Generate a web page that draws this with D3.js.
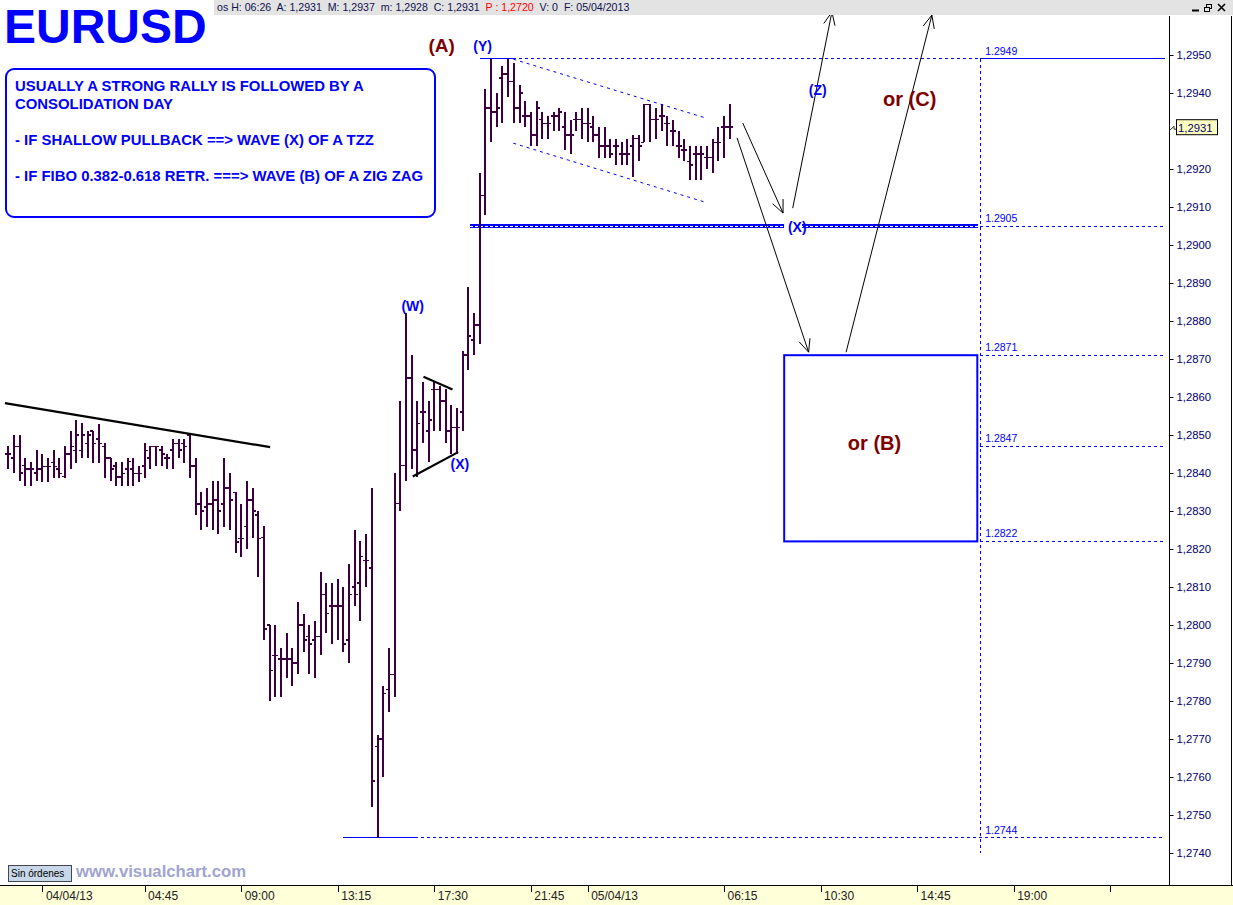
<!DOCTYPE html>
<html><head><meta charset="utf-8">
<script src="https://cdn.jsdelivr.net/npm/d3@7/dist/d3.min.js"></script>
<style>body{margin:0;background:#fff;overflow:hidden}svg{display:block}</style>
</head><body>
<svg id="c" width="1233" height="905"></svg>
<script>
// ---------- DATA (15-minute EURUSD bars, 04/04/13 - 05/04/13) ----------
const openP  = [1.28450,1.28440,1.28470,1.28420,1.28410,1.28400,1.28410,1.28417,1.28428,1.28410,1.28391,1.28450,1.28459,1.28459,1.28478,1.28511,1.28489,1.28470,1.28439,1.28419,1.28389,1.28410,1.28410,1.28399,1.28419,1.28439,1.28470,1.28461,1.28439,1.28461,1.28478,1.28478,1.28500,1.28419,1.28319,1.28310,1.28319,1.28329,1.28319,1.28360,1.28349,1.28228,1.28259,1.28329,1.28290,1.28230,1.28000,1.27920,1.27910,1.27910,1.27910,1.27900,1.28000,1.27970,1.27960,1.27970,1.28080,1.28050,1.28050,1.28050,1.27960,1.28100,1.28110,1.28170,1.28150,1.27680,1.27700,1.27830,1.27870,1.28320,1.28420,1.28650,1.28460,1.28560,1.28510,1.28620,1.28620,1.28590,1.28510,1.28520,1.28560,1.28710,1.28750,1.28790,1.29130,1.29360,1.29350,1.29440,1.29450,1.29430,1.29360,1.29340,1.29340,1.29290,1.29330,1.29320,1.29340,1.29340,1.29310,1.29290,1.29330,1.29330,1.29320,1.29310,1.29290,1.29260,1.29260,1.29260,1.29240,1.29240,1.29260,1.29280,1.29270,1.29370,1.29330,1.29340,1.29320,1.29300,1.29260,1.29250,1.29220,1.29240,1.29240,1.29230,1.29230,1.29270,1.29310,1.29310];
const highP  = [1.28470,1.28500,1.28500,1.28440,1.28428,1.28461,1.28450,1.28439,1.28461,1.28439,1.28470,1.28511,1.28540,1.28531,1.28511,1.28511,1.28529,1.28478,1.28439,1.28428,1.28428,1.28439,1.28439,1.28419,1.28478,1.28470,1.28470,1.28470,1.28450,1.28489,1.28489,1.28489,1.28500,1.28439,1.28349,1.28360,1.28380,1.28380,1.28439,1.28399,1.28349,1.28319,1.28380,1.28360,1.28300,1.28260,1.28000,1.28000,1.27940,1.27980,1.27940,1.28060,1.28030,1.28000,1.28010,1.28140,1.28110,1.28110,1.28120,1.28100,1.28160,1.28250,1.28220,1.28240,1.28360,1.27710,1.27840,1.27940,1.28400,1.28590,1.28820,1.28710,1.28590,1.28640,1.28590,1.28640,1.28630,1.28620,1.28580,1.28570,1.28720,1.28890,1.28820,1.29190,1.29410,1.29490,1.29400,1.29470,1.29490,1.29480,1.29420,1.29380,1.29350,1.29380,1.29350,1.29340,1.29350,1.29360,1.29350,1.29330,1.29350,1.29360,1.29360,1.29340,1.29310,1.29310,1.29280,1.29280,1.29270,1.29280,1.29290,1.29290,1.29370,1.29370,1.29360,1.29370,1.29340,1.29330,1.29300,1.29280,1.29260,1.29260,1.29260,1.29260,1.29280,1.29310,1.29340,1.29370];
const lowP   = [1.28410,1.28400,1.28380,1.28366,1.28366,1.28380,1.28377,1.28377,1.28388,1.28388,1.28388,1.28410,1.28427,1.28439,1.28439,1.28427,1.28427,1.28388,1.28380,1.28366,1.28366,1.28366,1.28366,1.28377,1.28388,1.28410,1.28419,1.28419,1.28410,1.28410,1.28439,1.28427,1.28388,1.28290,1.28249,1.28259,1.28249,1.28240,1.28259,1.28249,1.28189,1.28180,1.28199,1.28228,1.28127,1.27961,1.27800,1.27810,1.27810,1.27860,1.27840,1.27870,1.27930,1.27870,1.27860,1.27920,1.27980,1.27950,1.27960,1.27930,1.27900,1.28050,1.28010,1.28100,1.27520,1.27440,1.27600,1.27770,1.27810,1.28300,1.28380,1.28410,1.28390,1.28480,1.28430,1.28510,1.28510,1.28480,1.28450,1.28450,1.28510,1.28670,1.28710,1.28740,1.29080,1.29270,1.29310,1.29320,1.29390,1.29320,1.29320,1.29310,1.29260,1.29260,1.29280,1.29280,1.29300,1.29300,1.29250,1.29240,1.29300,1.29280,1.29270,1.29270,1.29230,1.29230,1.29230,1.29210,1.29210,1.29210,1.29180,1.29220,1.29270,1.29270,1.29280,1.29300,1.29260,1.29260,1.29230,1.29220,1.29170,1.29170,1.29170,1.29200,1.29190,1.29220,1.29230,1.29280];
const closeP = [1.28450,1.28470,1.28400,1.28410,1.28410,1.28410,1.28417,1.28417,1.28417,1.28399,1.28450,1.28470,1.28500,1.28500,1.28500,1.28478,1.28478,1.28439,1.28410,1.28389,1.28399,1.28430,1.28399,1.28399,1.28459,1.28470,1.28470,1.28450,1.28439,1.28478,1.28461,1.28470,1.28419,1.28319,1.28300,1.28319,1.28329,1.28300,1.28360,1.28329,1.28218,1.28228,1.28329,1.28300,1.28228,1.27990,1.27880,1.27920,1.27910,1.27910,1.27900,1.28000,1.27960,1.27950,1.27970,1.28080,1.28030,1.28050,1.28050,1.27950,1.28080,1.28080,1.28180,1.28170,1.27590,1.27700,1.27820,1.27870,1.28320,1.28420,1.28650,1.28460,1.28530,1.28560,1.28540,1.28620,1.28590,1.28510,1.28520,1.28520,1.28710,1.28760,1.28790,1.29130,1.29360,1.29350,1.29360,1.29450,1.29430,1.29360,1.29400,1.29340,1.29290,1.29360,1.29320,1.29320,1.29340,1.29350,1.29290,1.29290,1.29330,1.29320,1.29320,1.29290,1.29260,1.29260,1.29240,1.29260,1.29240,1.29240,1.29280,1.29260,1.29370,1.29330,1.29330,1.29340,1.29320,1.29300,1.29260,1.29250,1.29210,1.29240,1.29240,1.29230,1.29270,1.29270,1.29310,1.29310];

// 1,2930 is hidden behind the last-price tag in the reference
const yTickValues = [1.2740,1.2750,1.2760,1.2770,1.2780,1.2790,1.2800,1.2810,1.2820,1.2830,1.2840,1.2850,1.2860,1.2870,1.2880,1.2890,1.2900,1.2910,1.2920,1.2940,1.2950];
const xTickIndex  = [6, 24, 41, 58, 75, 92, 102, 126, 143, 160, 177, 194];
const xTickLabels = ["04/04/13","04:45","09:00","13:15","17:30","21:45","05/04/13","06:15","10:30","14:45","19:00",""];
const levelValues = [1.2949, 1.2905, 1.2871, 1.2847, 1.2822, 1.2744];
const levelLabels = ["1.2949","1.2905","1.2871","1.2847","1.2822","1.2744"];
const lastPrice = 1.2931;
// annotation geometry in (bar index, price)
const trendLine    = [[-0.6, 1.28584],[46.1, 1.28468]];
const triTop       = [[73.1, 1.28653],[78.2, 1.28620]];
const triBottom    = [[71.2, 1.28391],[79.2, 1.28455]];
const chanTop      = [[88.9, 1.29489],[122.4, 1.29336]];
const chanBottom   = [[88.9, 1.29268],[122.4, 1.29114]];
const arrowToX     = [[129.3, 1.29321],[136.4, 1.29084]];
const arrowToZ     = [[138.1, 1.29097],[145.0, 1.29613]];
const arrowToB     = [[128.3, 1.29282],[140.9, 1.28718]];
const arrowToC     = [[147.5, 1.28718],[162.6, 1.29605]];
const boxB         = {i0: 136.6, i1: 170.6, top: 1.2871, bottom: 1.2822};
const vLineIndex   = 171.1;
// wave labels: text, bar index (centre), baseline price, colour key, size
const waveLabels = [["(A)", 76.3, 1.29508, "r", 19], ["(Y)", 83.5, 1.29511, "b", 14], ["(W)", 71.2, 1.28826, "b", 14],
  ["(X)", 79.5, 1.28411, "b", 14], ["(Z)", 142.5, 1.29395, "b", 14], ["or (C)", 158.7, 1.29366, "r", 20],
  ["or (B)", 152.5, 1.28461, "r", 20]];

// ---------- SCALES ----------
const W = 1233, H = 905;
const x = d3.scaleLinear().domain([0, 200]).range([8.3, 8.3 + 200 * 5.68]);
const y = d3.scaleLinear().domain([1.2740, 1.2950]).range([853, 55]);
const svg = d3.select("#c");
const FONT = "'Liberation Sans', Arial, sans-serif";
const BLUE = "#0000ff", DRED = "#800000", BAR = "#3c0040";

svg.append("rect").attr("width", W).attr("height", H).attr("fill", "#fff");

// ---------- level lines ----------
const lv = svg.append("g");
const xEnd = 1165, xV = x(vLineIndex);
lv.append("line").attr("x1", x(83.1)).attr("x2", x(88.9)).attr("y1", y(1.2949)).attr("y2", y(1.2949)).attr("stroke", BLUE).attr("stroke-width", 1);
lv.append("line").attr("x1", x(88.9)).attr("x2", xV).attr("y1", y(1.2949)).attr("y2", y(1.2949)).attr("stroke", BLUE).attr("stroke-dasharray", "3,3");
lv.append("line").attr("x1", xV).attr("x2", xEnd).attr("y1", y(1.2949)).attr("y2", y(1.2949)).attr("stroke", BLUE);
// 1.2905 double line
lv.append("line").attr("x1", x(81.3)).attr("x2", xV - 2).attr("y1", y(1.2905)).attr("y2", y(1.2905)).attr("stroke", BLUE).attr("stroke-width", 4);
lv.append("line").attr("x1", x(81.3)).attr("x2", xV - 2).attr("y1", y(1.2905)).attr("y2", y(1.2905)).attr("stroke", "#fff").attr("stroke-width", 1).attr("stroke-dasharray", "3,2");
lv.append("line").attr("x1", xV).attr("x2", xEnd).attr("y1", y(1.2905)).attr("y2", y(1.2905)).attr("stroke", BLUE).attr("stroke-dasharray", "3,3");
[1.2871, 1.2847, 1.2822].forEach(v => lv.append("line").attr("x1", xV).attr("x2", xEnd).attr("y1", y(v)).attr("y2", y(v)).attr("stroke", BLUE).attr("stroke-dasharray", "3,3"));
lv.append("line").attr("x1", x(59)).attr("x2", x(71.6)).attr("y1", y(1.2744)).attr("y2", y(1.2744)).attr("stroke", BLUE);
lv.append("line").attr("x1", x(71.6)).attr("x2", xEnd).attr("y1", y(1.2744)).attr("y2", y(1.2744)).attr("stroke", BLUE).attr("stroke-dasharray", "3,3");
lv.append("line").attr("x1", xV).attr("x2", xV).attr("y1", y(1.2949)).attr("y2", y(1.2740)).attr("stroke", BLUE).attr("stroke-dasharray", "3,3");
lv.selectAll("line").attr("shape-rendering", "crispEdges");
lv.selectAll("text.lvl").data(levelValues).join("text").attr("class", "lvl")
  .attr("x", xV + 5).attr("y", d => y(d) - 4).attr("fill", BLUE)
  .attr("font-family", FONT).attr("font-size", 10.5).text((d, i) => levelLabels[i]);

// ---------- OHLC bars ----------
const bars = svg.append("g").attr("stroke", BAR).attr("stroke-width", 1.5).attr("shape-rendering", "crispEdges");
openP.forEach((o, i) => {
  const cx = Math.round(x(i));
  bars.append("line").attr("x1", cx).attr("x2", cx).attr("y1", y(highP[i])).attr("y2", y(lowP[i]));
  bars.append("line").attr("x1", cx - 3).attr("x2", cx).attr("y1", y(o)).attr("y2", y(o));
  bars.append("line").attr("x1", cx).attr("x2", cx + 3).attr("y1", y(closeP[i])).attr("y2", y(closeP[i]));
});

// ---------- drawn lines ----------
const seg = (p, color, w, dash) => svg.append("line")
  .attr("x1", x(p[0][0])).attr("y1", y(p[0][1])).attr("x2", x(p[1][0])).attr("y2", y(p[1][1]))
  .attr("stroke", color).attr("stroke-width", w).attr("stroke-dasharray", dash || null);
seg(trendLine, "#000", 2.2);
seg(triTop, "#000", 2.2);
seg(triBottom, "#000", 2.2);
seg(chanTop, BLUE, 1, "3,4");
seg(chanBottom, BLUE, 1, "3,4");

function arrow(p) {
  seg(p, "#000", 1);
  const x1 = x(p[0][0]), y1 = y(p[0][1]), x2 = x(p[1][0]), y2 = y(p[1][1]);
  const a = Math.atan2(y1 - y2, x1 - x2), L = 14, s = 0.42;
  [a - s, a + s].forEach(b => svg.append("line").attr("x1", x2).attr("y1", y2)
    .attr("x2", x2 + L * Math.cos(b)).attr("y2", y2 + L * Math.sin(b)).attr("stroke", "#000").attr("stroke-width", 1));
}
arrow(arrowToX); arrow(arrowToZ); arrow(arrowToB); arrow(arrowToC);

svg.append("rect").attr("x", x(boxB.i0)).attr("y", y(boxB.top))
  .attr("width", x(boxB.i1) - x(boxB.i0)).attr("height", y(boxB.bottom) - y(boxB.top))
  .attr("fill", "none").attr("stroke", BLUE).attr("stroke-width", 2);

// ---------- wave labels ----------
const lab = (t, xi, p, color, size) => svg.append("text").attr("x", x(xi)).attr("y", y(p))
  .attr("text-anchor", "middle").attr("font-family", FONT).attr("font-weight", "bold")
  .attr("font-size", size).attr("fill", color).text(t);
waveLabels.forEach(d => lab(d[0], d[1], d[2], d[3] === "r" ? DRED : BLUE, d[4]));
svg.append("rect").attr("x", x(136.4) + 1).attr("y", y(1.2905) - 7).attr("width", 18).attr("height", 14).attr("fill", "#fff");
lab("(X)", 138.9, 1.29034, BLUE, 14);

// ---------- text box ----------
svg.append("rect").attr("x", 6).attr("y", 69).attr("width", 429).attr("height", 148).attr("rx", 8)
  .attr("fill", "#fff").attr("stroke", BLUE).attr("stroke-width", 2);
const noteLines = [["USUALLY A STRONG RALLY IS FOLLOWED BY A", 91], ["CONSOLIDATION DAY", 109],
  ["- IF SHALLOW PULLBACK ==> WAVE (X) OF A TZZ", 145], ["- IF FIBO 0.382-0.618 RETR. ===> WAVE (B) OF A ZIG ZAG", 181]];
svg.selectAll("text.note").data(noteLines).join("text").attr("class", "note")
  .attr("x", 15).attr("y", d => d[1]).attr("font-family", FONT).attr("font-weight", "bold")
  .attr("font-size", 14.9).attr("fill", BLUE).text(d => d[0]);

// ---------- header ----------
svg.append("rect").attr("x", 214).attr("y", 0).attr("width", W - 214).attr("height", 15).attr("fill", "#e3e3e3");
const hdr = svg.append("text").attr("x", 217).attr("y", 11).attr("font-family", FONT).attr("font-size", 10.6)
  .attr("fill", "#101050").attr("xml:space", "preserve");
[["os H: 06:26  A: 1,2931  M: 1,2937  m: 1,2928  C: 1,2931  ", "#101050"], ["P : 1,2720", "#ff0000"], ["  V: 0  F: 05/04/2013", "#101050"]]
  .forEach(d => hdr.append("tspan").attr("fill", d[1]).text(d[0]));
const wb = svg.append("g").attr("stroke", "#000").attr("stroke-width", 1).attr("fill", "none");
wb.append("line").attr("x1", 1192).attr("x2", 1199).attr("y1", 10.5).attr("y2", 10.5).attr("stroke-width", 2);
wb.append("rect").attr("x", 1206.5).attr("y", 4.5).attr("width", 5).attr("height", 4);
wb.append("rect").attr("x", 1204.5).attr("y", 7.5).attr("width", 5).attr("height", 4).attr("fill", "#e3e3e3");
wb.append("path").attr("d", "M1218,4L1225,11M1225,4L1218,11").attr("stroke-width", 1.6);

svg.append("text").attr("x", 4).attr("y", 43).attr("font-family", FONT).attr("font-weight", "bold")
  .attr("font-size", 48).attr("fill", BLUE).text("EURUSD");

// ---------- Y axis ----------
svg.append("line").attr("x1", 1169.5).attr("x2", 1169.5).attr("y1", 16).attr("y2", 885).attr("stroke", "#000");
svg.append("line").attr("x1", 1231.5).attr("x2", 1231.5).attr("y1", 16).attr("y2", 885).attr("stroke", "#000");
const ya = svg.append("g").attr("transform", "translate(1169.5,0)")
  .call(d3.axisRight(y).tickValues(yTickValues).tickSize(4).tickPadding(3)
    .tickFormat(d => d.toFixed(4).replace(".", ",")));
ya.select(".domain").remove();
ya.selectAll("text").attr("font-family", FONT).attr("font-size", 11.3).attr("fill", "#000070");
ya.selectAll("line").attr("stroke", "#000");
svg.append("rect").attr("x", 1176.5).attr("y", y(lastPrice) - 7.5).attr("width", 41).attr("height", 15)
  .attr("fill", "#ffffc0").attr("stroke", "#000");
svg.append("text").attr("x", 1178).attr("y", y(lastPrice) + 4.5).attr("font-family", FONT).attr("font-size", 11.3)
  .attr("fill", "#000070").text(lastPrice.toFixed(4).replace(".", ","));
svg.append("path").attr("d", `M1170,${y(lastPrice)+3}l4,-4l0,3l2,0`).attr("stroke", "#000").attr("fill", "none").attr("stroke-width", 0.8);

// ---------- X axis ----------
svg.append("rect").attr("x", 0).attr("y", 885).attr("width", W).attr("height", H - 885).attr("fill", "#ffffd8");
svg.append("line").attr("x1", 0).attr("x2", W).attr("y1", 885.5).attr("y2", 885.5).attr("stroke", "#000");
const xa = svg.append("g").attr("transform", "translate(0,885.5)")
  .call(d3.axisBottom(x).tickValues(xTickIndex).tickSize(6).tickFormat((d, i) => xTickLabels[i]));
xa.select(".domain").remove();
xa.selectAll("line").attr("stroke", "#000").attr("shape-rendering", "crispEdges");
xa.selectAll("text").attr("text-anchor", "start").attr("dx", 3).attr("y", 14).attr("dy", 0)
  .attr("font-family", FONT).attr("font-size", 12).attr("fill", "#202020");

// footer
svg.append("rect").attr("x", 8.5).attr("y", 865.5).attr("width", 63).attr("height", 16).attr("fill", "#c8d8e8").attr("stroke", "#445");
svg.append("text").attr("x", 11).attr("y", 877).attr("font-family", FONT).attr("font-size", 10).attr("fill", "#000").text("Sin órdenes");
svg.append("text").attr("x", 76).attr("y", 877).attr("font-family", FONT).attr("font-weight", "bold").attr("font-size", 16.7)
  .attr("fill", "#a0a4d0").text("www.visualchart.com");
</script>
</body></html>
